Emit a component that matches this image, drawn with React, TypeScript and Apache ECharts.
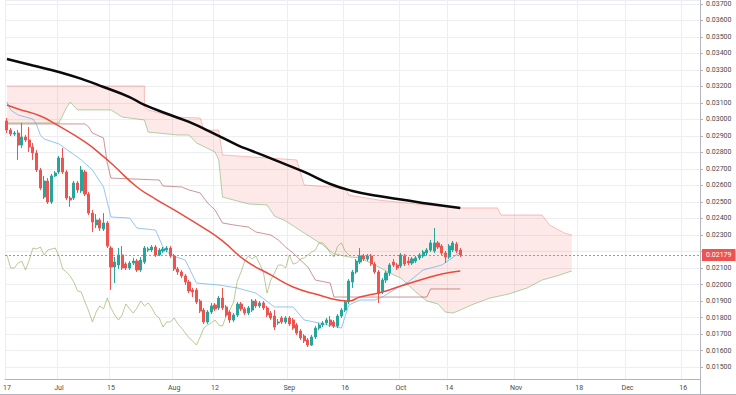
import React, { useEffect, useRef } from 'react';
import * as echarts from 'echarts';

// ---- axis domain ----
const startYear = 2019;
const startMonth = 5; // June (0-based)
const startDay = 17;
const dayCount = 187;

const tickDates = ['2019-06-17', '2019-07-01', '2019-07-15', '2019-08-01', '2019-08-12', '2019-09-01', '2019-09-16', '2019-10-01', '2019-10-14', '2019-11-01', '2019-11-18', '2019-12-01', '2019-12-16'];
const tickTexts = ['17', 'Jul', '15', 'Aug', '12', 'Sep', '16', 'Oct', '14', 'Nov', '18', 'Dec', '16'];

const priceMin = 0.014273;
const priceMax = 0.037242;
const priceStep = 0.001;
const priceSplits = 23;

// ---- daily candles (Jun 17 .. Oct 17) ----
const opens = [
  0.02991, 0.02936, 0.02912, 0.02918, 0.02845, 0.02894, 0.02876, 0.02833, 0.02797, 0.02694,
  0.02530, 0.02627, 0.02500, 0.02658, 0.02682, 0.02767, 0.02682, 0.02524, 0.02524, 0.02615,
  0.02567, 0.02682, 0.02548, 0.02433, 0.02361, 0.02391, 0.02336, 0.02373, 0.02221, 0.02106,
  0.02118, 0.02179, 0.02124, 0.02100, 0.02130, 0.02142, 0.02088, 0.02136, 0.02209, 0.02209,
  0.02227, 0.02179, 0.02203, 0.02209, 0.02221, 0.02173, 0.02094, 0.02076, 0.02052, 0.02015,
  0.01967, 0.01967, 0.01900, 0.01845, 0.01773, 0.01833, 0.01876, 0.01858, 0.01918, 0.01864,
  0.01833, 0.01785, 0.01815, 0.01882, 0.01852, 0.01827, 0.01845, 0.01900, 0.01870, 0.01888,
  0.01858, 0.01827, 0.01809, 0.01767, 0.01797, 0.01773, 0.01797, 0.01785, 0.01755, 0.01718,
  0.01688, 0.01664, 0.01633, 0.01682, 0.01736, 0.01755, 0.01767, 0.01785, 0.01773, 0.01748,
  0.01809, 0.01845, 0.01894, 0.02015, 0.02076, 0.02136, 0.02173, 0.02155, 0.02173, 0.02124,
  0.02076, 0.01955, 0.02027, 0.02070, 0.02136, 0.02118, 0.02112, 0.02173, 0.02142, 0.02130,
  0.02142, 0.02161, 0.02173, 0.02191, 0.02209, 0.02203, 0.02252, 0.02233, 0.02191, 0.02167,
  0.02209, 0.02245, 0.02209,
];
const closes = [
  0.02936, 0.02912, 0.02918, 0.02845, 0.02894, 0.02876, 0.02833, 0.02797, 0.02694, 0.02585,
  0.02627, 0.02500, 0.02658, 0.02676, 0.02767, 0.02682, 0.02524, 0.02512, 0.02615, 0.02573,
  0.02694, 0.02548, 0.02433, 0.02379, 0.02391, 0.02342, 0.02373, 0.02233, 0.02106, 0.02136,
  0.02179, 0.02100, 0.02100, 0.02130, 0.02142, 0.02088, 0.02148, 0.02221, 0.02215, 0.02227,
  0.02179, 0.02209, 0.02215, 0.02221, 0.02173, 0.02094, 0.02076, 0.02052, 0.02015, 0.01961,
  0.01955, 0.01894, 0.01839, 0.01773, 0.01833, 0.01870, 0.01852, 0.01918, 0.01858, 0.01815,
  0.01785, 0.01815, 0.01882, 0.01852, 0.01827, 0.01858, 0.01900, 0.01870, 0.01888, 0.01858,
  0.01815, 0.01797, 0.01742, 0.01773, 0.01773, 0.01797, 0.01761, 0.01736, 0.01706, 0.01676,
  0.01658, 0.01633, 0.01682, 0.01736, 0.01755, 0.01767, 0.01785, 0.01755, 0.01748, 0.01809,
  0.01845, 0.01894, 0.02021, 0.02076, 0.02142, 0.02173, 0.02155, 0.02173, 0.02124, 0.02076,
  0.01948, 0.02027, 0.02070, 0.02118, 0.02118, 0.02100, 0.02179, 0.02124, 0.02130, 0.02155,
  0.02161, 0.02179, 0.02197, 0.02209, 0.02252, 0.02252, 0.02227, 0.02191, 0.02167, 0.02233,
  0.02252, 0.02203, 0.02179,
];
const highs = [
  0.03009, 0.02948, 0.02930, 0.02936, 0.02979, 0.02906, 0.02955, 0.02858, 0.02815, 0.02706,
  0.02658, 0.02645, 0.02670, 0.02688, 0.02779, 0.02827, 0.02694, 0.02536, 0.02627, 0.02627,
  0.02718, 0.02694, 0.02561, 0.02452, 0.02427, 0.02403, 0.02433, 0.02385, 0.02233, 0.02167,
  0.02221, 0.02233, 0.02136, 0.02142, 0.02161, 0.02155, 0.02167, 0.02233, 0.02227, 0.02239,
  0.02239, 0.02221, 0.02227, 0.02233, 0.02233, 0.02185, 0.02106, 0.02088, 0.02064, 0.02027,
  0.01979, 0.01979, 0.01912, 0.01858, 0.01845, 0.01888, 0.01888, 0.01930, 0.01979, 0.01876,
  0.01845, 0.01827, 0.01894, 0.01894, 0.01864, 0.01870, 0.01912, 0.01912, 0.01900, 0.01900,
  0.01870, 0.01839, 0.01845, 0.01791, 0.01809, 0.01809, 0.01809, 0.01797, 0.01767, 0.01730,
  0.01700, 0.01676, 0.01694, 0.01748, 0.01767, 0.01779, 0.01797, 0.01809, 0.01785, 0.01821,
  0.01858, 0.01906, 0.02033, 0.02088, 0.02155, 0.02221, 0.02185, 0.02185, 0.02185, 0.02136,
  0.02088, 0.02039, 0.02082, 0.02130, 0.02155, 0.02130, 0.02191, 0.02185, 0.02167, 0.02167,
  0.02173, 0.02191, 0.02209, 0.02221, 0.02270, 0.02342, 0.02264, 0.02245, 0.02203, 0.02245,
  0.02264, 0.02258, 0.02221,
];
const lows = [
  0.02918, 0.02900, 0.02900, 0.02755, 0.02827, 0.02864, 0.02803, 0.02755, 0.02682, 0.02573,
  0.02518, 0.02488, 0.02488, 0.02652, 0.02670, 0.02670, 0.02512, 0.02470, 0.02512, 0.02555,
  0.02555, 0.02536, 0.02421, 0.02318, 0.02342, 0.02324, 0.02324, 0.02221, 0.01967, 0.02009,
  0.02094, 0.02088, 0.02088, 0.02088, 0.02118, 0.02076, 0.02076, 0.02124, 0.02197, 0.02197,
  0.02167, 0.02173, 0.02191, 0.02197, 0.02161, 0.02082, 0.02058, 0.02039, 0.01997, 0.01948,
  0.01924, 0.01882, 0.01827, 0.01761, 0.01761, 0.01821, 0.01839, 0.01845, 0.01845, 0.01803,
  0.01767, 0.01773, 0.01803, 0.01839, 0.01815, 0.01815, 0.01833, 0.01858, 0.01858, 0.01845,
  0.01803, 0.01785, 0.01724, 0.01755, 0.01761, 0.01761, 0.01748, 0.01724, 0.01694, 0.01664,
  0.01645, 0.01621, 0.01627, 0.01670, 0.01724, 0.01742, 0.01755, 0.01742, 0.01736, 0.01736,
  0.01797, 0.01833, 0.01882, 0.01979, 0.02064, 0.02124, 0.02142, 0.02142, 0.02112, 0.02064,
  0.01888, 0.01942, 0.02009, 0.02052, 0.02106, 0.02088, 0.02100, 0.02112, 0.02118, 0.02118,
  0.02130, 0.02148, 0.02161, 0.02179, 0.02197, 0.02191, 0.02215, 0.02179, 0.02130, 0.02155,
  0.02197, 0.02191, 0.02167,
];

// ---- indicator lines (day index, value) ----
const ma200Idx = [0, 7, 14, 21, 26, 33, 37, 44, 49, 56, 62, 66, 72, 80, 87, 93, 100, 107, 114, 122];
const ma200Val = [0.03367, 0.03327, 0.03288, 0.03239, 0.03197, 0.03136, 0.03088, 0.03027, 0.02985, 0.02912, 0.02845, 0.02809, 0.02755, 0.02682, 0.02609, 0.02567, 0.02536, 0.02512, 0.02488, 0.02464];

const ma50Idx = [0, 3, 9, 13, 21, 26, 29, 35, 40, 45, 53, 58, 64, 71, 77, 84, 89, 92, 95, 101, 106, 113, 117, 122];
const ma50Val = [0.03088, 0.03064, 0.03021, 0.02973, 0.02864, 0.02775, 0.02715, 0.02591, 0.02518, 0.02452, 0.02342, 0.02264, 0.02148, 0.02058, 0.01985, 0.01936, 0.01906, 0.01900, 0.01924, 0.01955, 0.01991, 0.02039, 0.02064, 0.02082];

const tenkanIdx = [0, 1, 3, 7, 8, 9, 10, 14, 20, 23, 26, 28, 33, 35, 40, 42, 44, 48, 51, 57, 62, 67, 72, 77, 80, 84, 90, 92, 95, 99, 101, 105, 108, 112, 117, 119, 122];
const tenkanVal = [0.03106, 0.03058, 0.03027, 0.03003, 0.02967, 0.02906, 0.02882, 0.02852, 0.02755, 0.02694, 0.02591, 0.02409, 0.02403, 0.02342, 0.02330, 0.02227, 0.02179, 0.02148, 0.02009, 0.01997, 0.01979, 0.01948, 0.01864, 0.01864, 0.01785, 0.01767, 0.01736, 0.01876, 0.01906, 0.01906, 0.01924, 0.01979, 0.02015, 0.02088, 0.02118, 0.02148, 0.02197];

const kijunIdx = [0, 21, 22, 23, 26, 27, 28, 41, 42, 47, 49, 52, 54, 56, 58, 61, 65, 67, 71, 73, 75, 77, 79, 81, 83, 87, 88, 113, 114, 122];
const kijunVal = [0.02973, 0.02973, 0.02955, 0.02918, 0.02888, 0.02736, 0.02645, 0.02633, 0.02597, 0.02591, 0.02573, 0.02555, 0.02494, 0.02452, 0.02373, 0.02361, 0.02348, 0.02318, 0.02300, 0.02270, 0.02227, 0.02191, 0.02148, 0.02106, 0.02027, 0.02009, 0.01924, 0.01924, 0.01973, 0.01973];

const spanAIdx = [0, 14, 16, 17, 19, 28, 31, 37, 38, 46, 49, 51, 56, 57, 58, 65, 70, 72, 75, 80, 85, 88, 92, 95, 100, 103, 106, 110, 113, 116, 118, 120, 122, 125, 130, 135, 140, 144, 148, 152];
const spanAVal = [0.02979, 0.02979, 0.03070, 0.03106, 0.03058, 0.03058, 0.03015, 0.02997, 0.02924, 0.02906, 0.02906, 0.02858, 0.02803, 0.02755, 0.02530, 0.02488, 0.02482, 0.02415, 0.02385, 0.02312, 0.02239, 0.02185, 0.02167, 0.02161, 0.02106, 0.02070, 0.02039, 0.01955, 0.01900, 0.01882, 0.01833, 0.01827, 0.01845, 0.01876, 0.01918, 0.01942, 0.01979, 0.02027, 0.02052, 0.02082];

const spanBIdx = [0, 37, 37, 38, 45, 52, 53, 57, 58, 78, 80, 91, 92, 100, 110, 122, 132, 133, 144, 146, 150, 152];
const spanBVal = [0.03203, 0.03203, 0.03076, 0.03058, 0.03015, 0.03009, 0.02936, 0.02936, 0.02785, 0.02755, 0.02603, 0.02585, 0.02542, 0.02512, 0.02488, 0.02464, 0.02464, 0.02421, 0.02421, 0.02361, 0.02312, 0.02300];

const laggingShift = 30;

function buildDates(): string[] {
  const out: string[] = [];
  const t0 = Date.UTC(startYear, startMonth, startDay);
  for (let k = 0; k < dayCount; k++) {
    out.push(new Date(t0 + k * 86400000).toISOString().slice(0, 10));
  }
  return out;
}

const pairs = (idx: number[], val: number[]) => idx.map((x, k) => [x, val[k]]);

const FONT = 'Roboto';
const GRID_COLOR = '#eceef2';
const AXIS_COLOR = '#b2b5be';
const LABEL_COLOR = '#4a4a4a';

export default function App() {
  const ref = useRef<HTMLDivElement>(null);

  useEffect(() => {
    if (!ref.current) return;
    const chart = echarts.init(ref.current, undefined, { renderer: 'svg' });
    const dates = buildDates();
    const isTick = (_i: number, v: string) => tickDates.indexOf(v) >= 0;
    const candles = opens.map((o, k) => [o, closes[k], lows[k], highs[k]]);
    const lagging = closes.slice(laggingShift).map((c, k) => [k, c]);
    const lastClose = closes[closes.length - 1];
    const onStep = (v: number) => Math.abs(v / priceStep - Math.round(v / priceStep)) < 0.01;
    // the price tag hides any axis label it would cover, as on the original
    const underTag = (v: number) => Math.abs(v - lastClose) < priceStep * 0.6;

    const lineBase = (data: any, color: string, width: number, z: number, smooth = false): any => ({
      type: 'line',
      data,
      symbol: 'none',
      smooth,
      z,
      silent: true,
      lineStyle: { color, width },
    });

    const ma200Series = lineBase(pairs(ma200Idx, ma200Val), '#0a0a0a', 2.5, 5, true);
    ma200Series.markLine = {
      silent: true,
      precision: 5,
      symbol: ['none', 'none'],
      data: [{ yAxis: lastClose }],
      lineStyle: { color: 'rgba(239,83,80,0.8)', width: 1, type: [2, 2] },
      label: {
        show: true,
        position: 'end',
        distance: 2,
        formatter: () => lastClose.toFixed(5),
        backgroundColor: '#ef5350',
        color: '#ffffff',
        fontSize: 7,
        fontFamily: FONT,
        padding: [3, 4, 2, 4],
      },
    };

    chart.setOption({
      animation: false,
      textStyle: { fontFamily: FONT },
      grid: { left: 0, right: 36, top: 0, bottom: 16 },
      xAxis: {
        type: 'category',
        data: dates,
        boundaryGap: true,
        axisLine: { show: true, lineStyle: { color: AXIS_COLOR } },
        axisTick: { show: false },
        splitLine: { show: true, interval: isTick, lineStyle: { color: GRID_COLOR, width: 1 } },
        axisLabel: {
          show: true,
          interval: isTick,
          formatter: (v: string) => tickTexts[tickDates.indexOf(v)] ?? '',
          fontSize: 7,
          color: LABEL_COLOR,
          fontFamily: FONT,
          margin: 5,
        },
      },
      yAxis: {
        type: 'value',
        position: 'right',
        min: priceMin,
        max: priceMax,
        splitNumber: priceSplits,
        axisLine: { show: true, lineStyle: { color: AXIS_COLOR } },
        axisTick: { show: true, length: 3, lineStyle: { color: AXIS_COLOR } },
        axisLabel: {
          fontSize: 7,
          color: LABEL_COLOR,
          fontFamily: FONT,
          margin: 6,
          showMinLabel: false,
          showMaxLabel: false,
          formatter: (v: number) => (onStep(v) && !underTag(v) ? v.toFixed(5) : ''),
        },
        splitLine: { show: true, lineStyle: { color: GRID_COLOR, width: 1 } },
      },
      series: [
        {
          type: 'custom',
          z: 1,
          silent: true,
          data: [[0, spanAVal[0]]],
          renderItem: (_p: any, api: any) => {
            const top = spanBIdx.map((x, k) => api.coord([x, spanBVal[k]]));
            const bot = spanAIdx.map((x, k) => api.coord([x, spanAVal[k]])).reverse();
            return {
              type: 'polygon',
              shape: { points: top.concat(bot) },
              style: { fill: 'rgba(239,83,80,0.13)' },
              silent: true,
            };
          },
        },
        lineBase(pairs(spanAIdx, spanAVal), 'rgba(102,170,90,0.5)', 1, 2),
        lineBase(pairs(spanBIdx, spanBVal), 'rgba(239,83,80,0.35)', 1, 2),
        lineBase(lagging, 'rgba(130,160,70,0.55)', 1, 3),
        lineBase(pairs(kijunIdx, kijunVal), 'rgba(150,50,50,0.5)', 1, 3),
        lineBase(pairs(tenkanIdx, tenkanVal), 'rgba(80,160,230,0.6)', 1, 3),
        {
          type: 'candlestick',
          data: candles,
          barWidth: 2.6,
          z: 4,
          silent: true,
          itemStyle: {
            color: '#26a69a',
            color0: '#ef5350',
            borderColor: '#26a69a',
            borderColor0: '#ef5350',
            borderWidth: 1,
          },
        },
        lineBase(pairs(ma50Idx, ma50Val), '#ec4b3c', 1.5, 5, true),
        ma200Series,
      ],
      graphic: [
        { type: 'line', shape: { x1: 700.5, y1: 379, x2: 700.5, y2: 395 }, style: { stroke: AXIS_COLOR, lineWidth: 1 }, silent: true },
        { type: 'line', shape: { x1: 0, y1: 394.5, x2: 736, y2: 394.5 }, style: { stroke: AXIS_COLOR, lineWidth: 1 }, silent: true },
      ],
    });
    return () => chart.dispose();
  }, []);

  return (
    <div
      ref={ref}
      style={{ position: 'fixed', left: 0, top: 0, width: 736, height: 395, background: '#ffffff' }}
    />
  );
}
